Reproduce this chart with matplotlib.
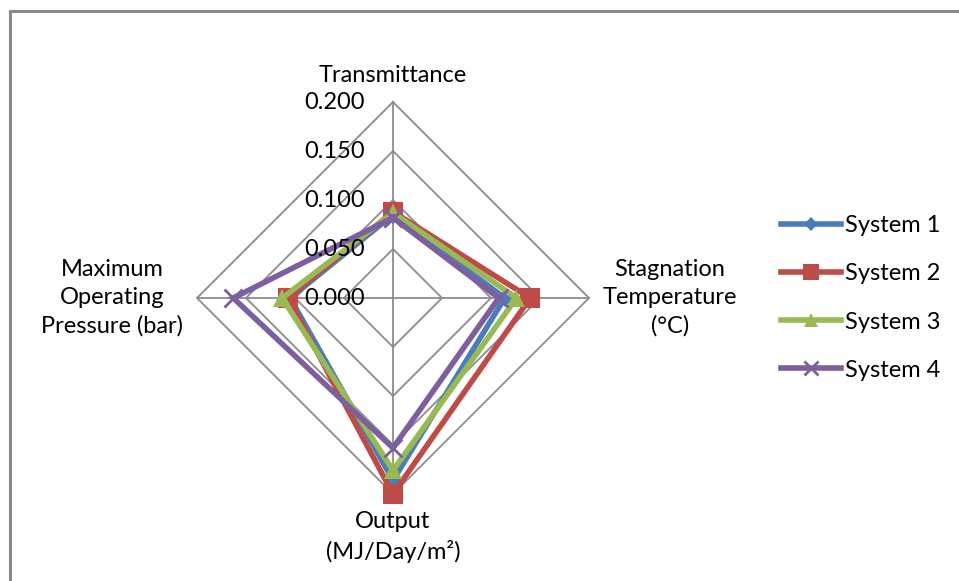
import numpy as np
import matplotlib.pyplot as plt

plt.rcParams['font.family'] = ['Lato', 'DejaVu Sans']

axis_names = ['Transmittance', 'Stagnation\nTemperature\n(°C)',
              'Output\n(MJ/Day/m²)', 'Maximum\nOperating\nPressure (bar)']
series_names = ['System 1', 'System 2', 'System 3', 'System 4']
system1 = [0.085, 0.114, 0.186, 0.105]
system2 = [0.088, 0.140, 0.200, 0.107]
system3 = [0.087, 0.126, 0.176, 0.113]
system4 = [0.082, 0.108, 0.153, 0.163]
grid_levels = [0.05, 0.10, 0.15, 0.20]
tick_labels = ['0.000', '0.050', '0.100', '0.150', '0.200']

colors = ['#4a7ebb', '#be4b48', '#98b954', '#7d5fa0']
markers = ['D', 's', '^', 'x']
msizes = [9, 14, 13, 13]

W, H = 959, 581
cx, cy, rpx = 393, 298, 196   # centre and 0.2 radius in pixels
scale = 0.2 / rpx

fig = plt.figure(figsize=(W / 100, H / 100), dpi=100)
ax = fig.add_axes([0, 0, 1, 1])
ax.set_xlim(-cx * scale, (W - cx) * scale)
ax.set_ylim(-(H - cy) * scale, cy * scale)
ax.axis('off')

angles = np.arange(4) * np.pi / 2  # clockwise from the top


def to_xy(vals):
    vals = np.asarray(vals + vals[:1])
    th = np.append(angles, angles[0])
    return vals * np.sin(th), vals * np.cos(th)


grid_col = '#8c8c8c'
for lv in grid_levels:
    gx, gy = to_xy([lv] * 4)
    ax.plot(gx, gy, color=grid_col, lw=1.3, zorder=1)
for th in angles:
    ax.plot([0, 0.2 * np.sin(th)], [0, 0.2 * np.cos(th)], color=grid_col, lw=1.3, zorder=1)

fs = 17
for i, lab in enumerate(tick_labels):
    ax.text(-0.029, i * 0.05, lab, ha='right', va='center', fontsize=fs, zorder=5)

ax.text(0, 0.2 + 27 * scale, axis_names[0], ha='center', va='center', fontsize=fs)
ax.text((670 - cx) * scale, 0, axis_names[1], ha='center', va='center', fontsize=fs,
        linespacing=1.4)
ax.text(0, -(537 - cy) * scale, axis_names[2], ha='center', va='center', fontsize=fs,
        linespacing=1.4)
ax.text(-(cx - 112) * scale, 0, axis_names[3], ha='center', va='center', fontsize=fs,
        linespacing=1.4)

data = [system1, system2, system3, system4]
handles = []
for vals, name, c, m, ms in zip(data, series_names, colors, markers, msizes):
    sx, sy = to_xy(vals)
    mew = 2 if m == 'x' else 0
    h, = ax.plot(sx, sy, color=c, lw=4, marker=m, markersize=ms, markeredgewidth=mew,
                 markeredgecolor=c, solid_joinstyle='miter', label=name, zorder=3)
    handles.append(h)

leg = fig.legend(handles=handles, loc='center left', bbox_to_anchor=(781 / W, 1 - 298 / H),
                 frameon=False, fontsize=fs, handlelength=2.55, handletextpad=0.15,
                 labelspacing=1.15, borderaxespad=0, borderpad=0, markerscale=0.8)

# outer chart frame (left and top edges visible)
ax.plot([10 * scale - cx * scale] * 2, [-(H - cy) * scale, (cy - 11) * scale],
        color='#8a8a8a', lw=2.2, zorder=0)
ax.plot([10 * scale - cx * scale, (W - cx) * scale], [(cy - 11) * scale] * 2,
        color='#8a8a8a', lw=2.2, zorder=0)

fig.savefig('out.png', dpi=100, facecolor='white')
